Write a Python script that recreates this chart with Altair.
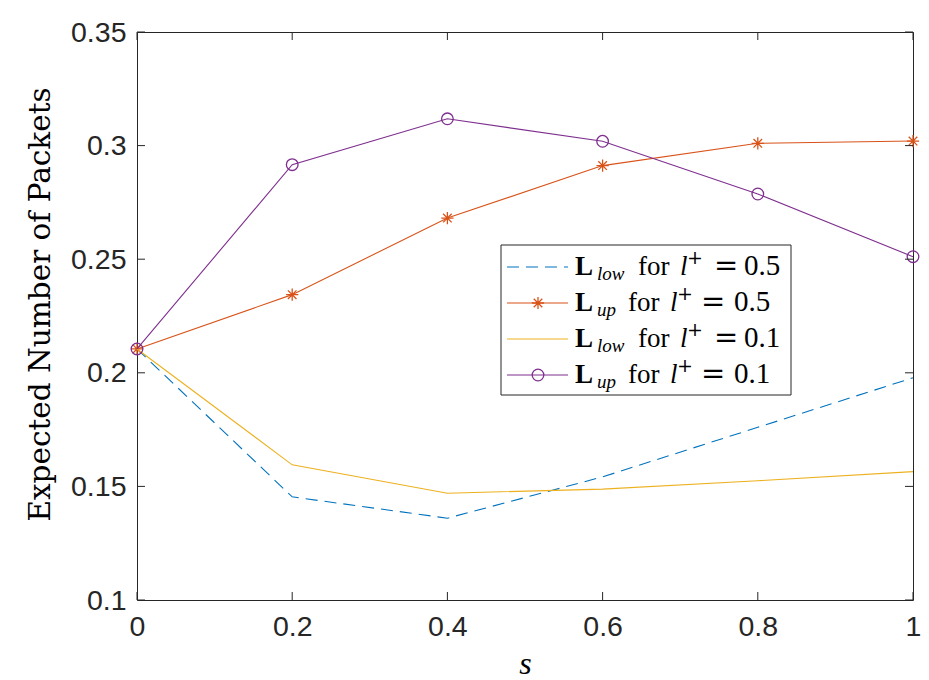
import altair as alt
import pandas as pd

# ---- data ----
s_vals = [0, 0.2, 0.4, 0.6, 0.8, 1.0]
low_05 = [0.2105, 0.1454, 0.1360, 0.1542, 0.1760, 0.1978]
up_05 = [0.2105, 0.2344, 0.2681, 0.2912, 0.3010, 0.3020]
low_01 = [0.2105, 0.1595, 0.1470, 0.1488, 0.1525, 0.1565]
up_01 = [0.2105, 0.2916, 0.3118, 0.3019, 0.2787, 0.2511]

x_ticks = [0, 0.2, 0.4, 0.6, 0.8, 1.0]
y_ticks = [0.1, 0.15, 0.2, 0.25, 0.3, 0.35]

legend_subs = ["low", "up", "low", "up"]
legend_vals = ["0.5", "0.5", "0.1", "0.1"]

BLUE = "#0072BD"
ORANGE = "#D95319"
YELLOW = "#EDB120"
PURPLE = "#7E2F8E"
AX = "#262626"

W, H = 776, 568
STAR = "M-1,0L1,0M0,-1L0,1M-0.7,-0.7L0.7,0.7M-0.7,0.7L0.7,-0.7"

X = alt.X("s:Q", scale=alt.Scale(domain=[0, 1], nice=False, zero=False),
          axis=alt.Axis(values=x_ticks, format="~g", title="s", ticks=False,
                        domain=False, grid=False, labelPadding=12, labelFlush=False,
                        titleX=388, titleY=73, titleBaseline="alphabetic",
                        titleAlign="center"))
Y = alt.Y("v:Q", scale=alt.Scale(domain=[0.1, 0.35], nice=False, zero=False),
          axis=alt.Axis(values=y_ticks, format="~g", title="Expected Number of Packets",
                        ticks=False, domain=False, grid=False, labelPadding=11,
                        labelFlush=False,
                        titleX=-97, titleY=272, titleAngle=270, titleAlign="center",
                        titleBaseline="middle"))

dummy = pd.DataFrame({"k": [0]})

layers = []


def series(vals, color, dash=None, shape=None, size=None):
    df = pd.DataFrame({"s": s_vals, "v": vals})
    kw = dict(color=color, strokeWidth=1.1)
    if dash:
        kw["strokeDash"] = dash
    out = [alt.Chart(df).mark_line(**kw).encode(x=X, y=Y)]
    if shape:
        out.append(alt.Chart(df).mark_point(shape=shape, filled=False, stroke=color,
                                            strokeWidth=1.3, size=size, opacity=1)
                   .encode(x=X, y=Y))
    return out


layers += series(low_05, BLUE, dash=[12, 7])
layers += series(up_05, ORANGE, shape=STAR, size=150)
layers += series(low_01, YELLOW)
layers += series(up_01, PURPLE, shape="circle", size=135)

# inside ticks (box style)
xt = pd.DataFrame({"s": x_ticks})
yt = pd.DataFrame({"v": y_ticks})
layers.append(alt.Chart(xt).mark_rule(color=AX, strokeWidth=1).encode(
    x=X, y=alt.value(H), y2=alt.value(H - 8)))
layers.append(alt.Chart(xt).mark_rule(color=AX, strokeWidth=1).encode(
    x=X, y=alt.value(0), y2=alt.value(8)))
layers.append(alt.Chart(yt).mark_rule(color=AX, strokeWidth=1).encode(
    y=Y, x=alt.value(0), x2=alt.value(8)))
layers.append(alt.Chart(yt).mark_rule(color=AX, strokeWidth=1).encode(
    y=Y, x=alt.value(W - 8), x2=alt.value(W)))

# ---- legend ----
layers.append(alt.Chart(dummy).mark_rect(fill="white", stroke=AX, strokeWidth=1).encode(
    x=alt.value(364), x2=alt.value(654), y=alt.value(213), y2=alt.value(363)))

colors = [BLUE, ORANGE, YELLOW, PURPLE]
dashes = [[12, 7], None, None, None]
markers = [None, (STAR, 150), None, ("circle", 135)]
baselines = [243, 279, 315, 351]


def txt(label, x, y, size, style="normal", weight="normal", font="Liberation Serif"):
    return alt.Chart(pd.DataFrame({"t": [label]})).mark_text(
        align="left", baseline="alphabetic", fontSize=size, fontStyle=style,
        fontWeight=weight, font=font, color="black"
    ).encode(x=alt.value(x), y=alt.value(y), text="t:N")


for i in range(4):
    b = baselines[i]
    ly = b - 8
    kw = dict(color=colors[i], strokeWidth=1.1)
    if dashes[i]:
        kw["strokeDash"] = dashes[i]
    layers.append(alt.Chart(dummy).mark_rule(**kw).encode(
        x=alt.value(370), x2=alt.value(431), y=alt.value(ly)))
    if markers[i]:
        shp, sz = markers[i]
        layers.append(alt.Chart(dummy).mark_point(
            shape=shp, filled=False, stroke=colors[i], strokeWidth=1.3, size=sz, opacity=1
        ).encode(x=alt.value(401), y=alt.value(ly)))
    sub = legend_subs[i]
    if sub == "low":
        xs = dict(sub=460, f=501, l=543, p=550, eq=577, n=607)
    else:
        xs = dict(sub=460, f=491, l=533, p=540, eq=564, n=597)
    layers.append(txt("L", 438, b, 27, weight="bold"))
    layers.append(txt(sub, xs["sub"], b + 5, 19, style="italic"))
    layers.append(txt("for", xs["f"], b, 27))
    layers.append(txt("l", xs["l"], b, 27, style="italic"))
    layers.append(txt("+", xs["p"], b - 11, 19, font="DejaVu Serif"))
    layers.append(txt("=", xs["eq"], b, 29, font="DejaVu Serif"))
    layers.append(txt(legend_vals[i], xs["n"], b, 29))

chart = alt.layer(*layers).properties(
    width=W, height=H,
    autosize=alt.AutoSizeParams(type="none"),
    padding={"left": 137, "top": 32, "right": 16, "bottom": 80},
    background="white",
).configure_view(
    stroke=AX, strokeWidth=1
).configure_axis(
    labelFont="Liberation Sans", labelFontSize=28.5, labelColor=AX,
    titleColor="black", titleFontWeight="normal",
).configure_axisY(
    titleFont="DejaVu Serif", titleFontSize=29.5,
).configure_axisX(
    titleFont="Liberation Serif", titleFontSize=32, titleFontStyle="italic",
)

chart.save("out.html", embed_options={"renderer": "svg", "actions": False})
